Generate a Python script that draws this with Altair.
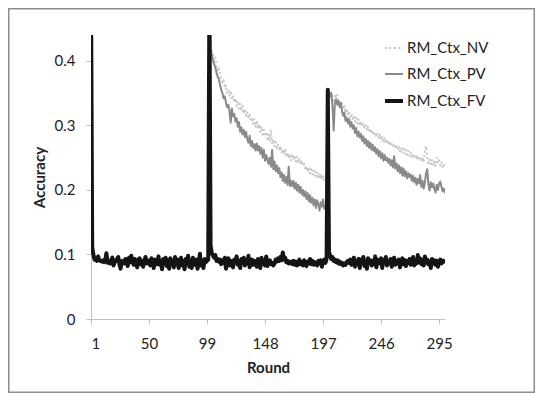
import altair as alt
import pandas as pd

# ---------------- data ----------------
rounds = list(range(1, 301))

fv = [
    0.52, 0.112, 0.100, 0.092, 0.093, 0.090, 0.097, 0.091, 0.090, 0.089,
    0.091, 0.088, 0.090, 0.102, 0.087, 0.089, 0.086, 0.091, 0.095, 0.083,
    0.088, 0.090, 0.093, 0.096, 0.085, 0.078, 0.090, 0.087, 0.086, 0.093,
    0.089, 0.082, 0.095, 0.088, 0.098, 0.090, 0.084, 0.093, 0.087, 0.080,
    0.092, 0.094, 0.085, 0.090, 0.081, 0.089, 0.096, 0.086, 0.091, 0.088,
    0.083, 0.094, 0.087, 0.079, 0.092, 0.089, 0.085, 0.097, 0.084, 0.090,
    0.077, 0.093, 0.088, 0.095, 0.082, 0.091, 0.078, 0.094, 0.086, 0.090,
    0.080, 0.096, 0.085, 0.092, 0.079, 0.088, 0.095, 0.083, 0.090, 0.077,
    0.093, 0.087, 0.098, 0.081, 0.090, 0.079, 0.095, 0.086, 0.084, 0.092,
    0.078, 0.089, 0.101, 0.083, 0.087, 0.079, 0.093, 0.088, 0.090, 0.092,
    0.50, 0.114, 0.102, 0.098, 0.095, 0.099, 0.090, 0.093, 0.089, 0.092,
    0.085, 0.091, 0.087, 0.095, 0.078, 0.089, 0.094, 0.083, 0.090, 0.088,
    0.080, 0.092, 0.086, 0.097, 0.084, 0.090, 0.079, 0.093, 0.088, 0.095,
    0.083, 0.091, 0.086, 0.098, 0.080, 0.089, 0.092, 0.084, 0.090, 0.087,
    0.081, 0.093, 0.088, 0.079, 0.095, 0.086, 0.090, 0.083, 0.097, 0.082,
    0.088, 0.091, 0.085, 0.087, 0.083, 0.086, 0.092, 0.089, 0.094, 0.090,
    0.096, 0.091, 0.103, 0.092, 0.095, 0.088, 0.090, 0.086, 0.089, 0.087,
    0.085, 0.090, 0.084, 0.089, 0.083, 0.086, 0.092, 0.085, 0.088, 0.083,
    0.091, 0.087, 0.082, 0.089, 0.086, 0.093, 0.085, 0.090, 0.084, 0.088,
    0.087, 0.083, 0.090, 0.086, 0.091, 0.081, 0.089, 0.092, 0.087, 0.093,
    0.355, 0.104, 0.098, 0.093, 0.096, 0.090, 0.092, 0.088, 0.091, 0.086,
    0.089, 0.085, 0.087, 0.083, 0.086, 0.084, 0.088, 0.090, 0.087, 0.092,
    0.084, 0.089, 0.095, 0.081, 0.090, 0.087, 0.093, 0.079, 0.092, 0.086,
    0.096, 0.082, 0.089, 0.078, 0.094, 0.087, 0.091, 0.083, 0.090, 0.085,
    0.097, 0.080, 0.092, 0.086, 0.089, 0.094, 0.079, 0.091, 0.088, 0.096,
    0.083, 0.090, 0.087, 0.093, 0.081, 0.089, 0.095, 0.084, 0.090, 0.086,
    0.092, 0.080, 0.088, 0.094, 0.085, 0.091, 0.082, 0.090, 0.087, 0.093,
    0.084, 0.089, 0.096, 0.083, 0.091, 0.086, 0.099, 0.088, 0.094, 0.085,
    0.090, 0.083, 0.097, 0.087, 0.092, 0.085, 0.089, 0.079, 0.093, 0.086,
    0.091, 0.084, 0.090, 0.081, 0.088, 0.092, 0.086, 0.090, 0.089, 0.092,
]

# PV and NV coincide with FV (hidden under it) until round 100
vary_rounds = list(range(101, 301))

pv = [
    0.50, 0.418, 0.410, 0.400, 0.395, 0.390, 0.382, 0.375, 0.372, 0.362,
    0.355, 0.350, 0.342, 0.345, 0.335, 0.328, 0.332, 0.322, 0.304, 0.326,
    0.314, 0.318, 0.306, 0.311, 0.298, 0.305, 0.290, 0.297, 0.286, 0.293,
    0.282, 0.290, 0.278, 0.273, 0.284, 0.268, 0.276, 0.265, 0.271, 0.261,
    0.272, 0.261, 0.268, 0.256, 0.265, 0.250, 0.262, 0.245, 0.254, 0.247,
    0.240, 0.250, 0.236, 0.262, 0.232, 0.244, 0.229, 0.238, 0.226, 0.234,
    0.220, 0.227, 0.214, 0.223, 0.211, 0.220, 0.208, 0.236, 0.206, 0.214,
    0.206, 0.214, 0.202, 0.211, 0.199, 0.208, 0.196, 0.205, 0.193, 0.200,
    0.190, 0.198, 0.186, 0.195, 0.182, 0.192, 0.180, 0.188, 0.176, 0.185,
    0.172, 0.184, 0.178, 0.168, 0.181, 0.174, 0.185, 0.171, 0.176, 0.174,
    0.355, 0.352, 0.345, 0.350, 0.328, 0.292, 0.335, 0.340, 0.332, 0.338,
    0.328, 0.335, 0.322, 0.315, 0.320, 0.307, 0.312, 0.303, 0.310, 0.298,
    0.305, 0.295, 0.300, 0.288, 0.296, 0.283, 0.290, 0.281, 0.287, 0.276,
    0.283, 0.272, 0.279, 0.268, 0.276, 0.265, 0.273, 0.262, 0.270, 0.260,
    0.266, 0.256, 0.263, 0.252, 0.260, 0.249, 0.257, 0.245, 0.254, 0.246,
    0.250, 0.242, 0.248, 0.238, 0.246, 0.235, 0.252, 0.233, 0.241, 0.229,
    0.238, 0.226, 0.235, 0.222, 0.233, 0.221, 0.229, 0.218, 0.226, 0.220,
    0.224, 0.214, 0.222, 0.212, 0.219, 0.208, 0.217, 0.210, 0.223, 0.205,
    0.214, 0.202, 0.211, 0.226, 0.232, 0.208, 0.199, 0.212, 0.204, 0.210,
    0.202, 0.196, 0.208, 0.200, 0.210, 0.213, 0.205, 0.198, 0.202, 0.195,
]

nv = [
    0.50, 0.425, 0.415, 0.410, 0.400, 0.405, 0.392, 0.385, 0.390, 0.378,
    0.372, 0.366, 0.370, 0.358, 0.362, 0.350, 0.355, 0.346, 0.351, 0.340,
    0.345, 0.336, 0.342, 0.330, 0.338, 0.326, 0.333, 0.322, 0.330, 0.318,
    0.325, 0.314, 0.320, 0.310, 0.318, 0.306, 0.312, 0.302, 0.310, 0.298,
    0.305, 0.295, 0.302, 0.290, 0.298, 0.286, 0.293, 0.283, 0.290, 0.279,
    0.286, 0.275, 0.292, 0.271, 0.279, 0.268, 0.274, 0.265, 0.270, 0.261,
    0.268, 0.258, 0.263, 0.255, 0.262, 0.251, 0.258, 0.249, 0.255, 0.246,
    0.256, 0.247, 0.253, 0.244, 0.251, 0.242, 0.248, 0.240, 0.246, 0.237,
    0.240, 0.231, 0.237, 0.228, 0.235, 0.226, 0.232, 0.224, 0.230, 0.222,
    0.228, 0.220, 0.226, 0.218, 0.225, 0.216, 0.223, 0.215, 0.221, 0.219,
    0.355, 0.350, 0.345, 0.352, 0.340, 0.336, 0.348, 0.342, 0.347, 0.335,
    0.338, 0.330, 0.334, 0.325, 0.330, 0.320, 0.326, 0.317, 0.322, 0.313,
    0.318, 0.310, 0.315, 0.306, 0.312, 0.303, 0.309, 0.300, 0.306, 0.298,
    0.303, 0.295, 0.300, 0.292, 0.298, 0.289, 0.295, 0.287, 0.292, 0.284,
    0.289, 0.282, 0.287, 0.279, 0.285, 0.277, 0.282, 0.274, 0.280, 0.272,
    0.278, 0.270, 0.276, 0.268, 0.274, 0.266, 0.272, 0.264, 0.270, 0.262,
    0.268, 0.260, 0.266, 0.258, 0.264, 0.256, 0.262, 0.254, 0.260, 0.253,
    0.258, 0.251, 0.256, 0.249, 0.255, 0.247, 0.253, 0.246, 0.252, 0.244,
    0.250, 0.243, 0.262, 0.268, 0.249, 0.241, 0.247, 0.240, 0.246, 0.238,
    0.244, 0.237, 0.250, 0.242, 0.246, 0.238, 0.243, 0.236, 0.241, 0.237,
]

series_names = ["RM_Ctx_NV", "RM_Ctx_PV", "RM_Ctx_FV"]
series_colors = ["#c6c6c6", "#8a8a8a", "#141414"]
series_dash = [[2, 2.5], [1, 0], [1, 0]]
series_width = [2, 2, 4]
x_ticks = [1, 50, 99, 148, 197, 246, 295]
y_ticks = [0, 0.1, 0.2, 0.3, 0.4]

df = pd.concat([
    pd.DataFrame({"Round": vary_rounds, "Accuracy": nv, "Series": series_names[0]}),
    pd.DataFrame({"Round": vary_rounds, "Accuracy": pv, "Series": series_names[1]}),
    pd.DataFrame({"Round": rounds, "Accuracy": fv, "Series": series_names[2]}),
], ignore_index=True)

FONT = "Lato"
W, H = 354, 284
PAD = {"left": 83, "top": 27, "right": 90, "bottom": 74}

x_enc = alt.X(
    "Round:Q",
    scale=alt.Scale(domain=[1, 300], nice=False, zero=False),
    axis=alt.Axis(values=x_ticks, title="Round", labelPadding=12, titlePadding=9),
)
y_enc = alt.Y(
    "Accuracy:Q",
    scale=alt.Scale(domain=[0, 0.44], nice=False),
    axis=alt.Axis(
        values=y_ticks, title="Accuracy", labelPadding=11, titlePadding=7,
        labelExpr="datum.value == 0 ? '0' : format(datum.value, '.1f')",
    ),
)
legend = alt.Legend(
    orient="none", legendX=292, legendY=3, title=None, symbolType="stroke",
    symbolSize=324, labelFontSize=15, labelFont=FONT, labelColor="#222222",
    rowPadding=8, labelOffset=2, padding=0,
)
color_enc = alt.Color("Series:N", scale=alt.Scale(domain=series_names, range=series_colors), legend=legend)
dash_enc = alt.StrokeDash("Series:N", scale=alt.Scale(domain=series_names, range=series_dash), legend=legend)
width_enc = alt.StrokeWidth(
    "Series:N",
    scale=alt.Scale(type="ordinal", domain=series_names, range=series_width),
    legend=legend,
)

layers = []
for name in series_names:
    layers.append(
        alt.Chart(df)
        .transform_filter(alt.datum.Series == name)
        .mark_line(clip=True, strokeCap="butt", strokeJoin="round")
        .encode(x=x_enc, y=y_enc, color=color_enc, strokeDash=dash_enc, strokeWidth=width_enc)
    )

frame = alt.Chart(pd.DataFrame({"k": [0]})).mark_rect(
    fill=None, stroke="#8c8c8c", strokeWidth=1.5, clip=False
).encode(
    x=alt.value(-PAD["left"] + 0.75), x2=alt.value(W + PAD["right"] - 0.75),
    y=alt.value(-PAD["top"] + 0.75), y2=alt.value(H + PAD["bottom"] - 0.75),
)

chart = alt.layer(frame, *layers).properties(
    width=W, height=H,
    autosize=alt.AutoSizeParams(type="none"),
    padding=PAD,
    background="white",
).configure_view(stroke=None).configure_axis(
    grid=False, domainColor="#bfbfbf", tickColor="#bfbfbf", tickSize=5,
    labelFont=FONT, labelFontSize=15, labelColor="#222222",
    titleFont=FONT, titleFontSize=15, titleFontWeight="bold", titleColor="#222222",
)

chart.save("out.html", embed_options={"renderer": "svg", "actions": False})
